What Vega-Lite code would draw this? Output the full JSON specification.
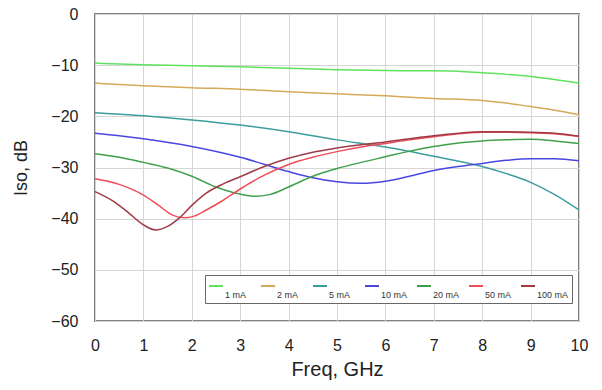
{
  "$schema": "https://vega.github.io/schema/vega-lite/v6.json",
  "autosize": {"type": "none"},
  "padding": {"left": 95, "top": 14, "right": 23, "bottom": 69},
  "width": 484,
  "height": 307,
  "background": "white",
  "config": {
    "view": {"stroke": "#808080", "strokeWidth": 2},
    "axis": {
      "grid": true, "gridColor": "#d6d6d6", "gridWidth": 1,
      "ticks": false, "domain": false,
      "labelFont": "Liberation Sans", "labelFontSize": 16, "labelColor": "#222",
      "titleFont": "Liberation Sans", "titleFontWeight": "normal", "titleColor": "#222"
    }
  },
  "data": {
    "values": [
      {"f":0,"iso":-9.6,"s":"1 mA"},{"f":1,"iso":-9.9,"s":"1 mA"},{"f":2,"iso":-10.1,"s":"1 mA"},{"f":3,"iso":-10.3,"s":"1 mA"},{"f":4,"iso":-10.6,"s":"1 mA"},{"f":5,"iso":-10.9,"s":"1 mA"},{"f":6,"iso":-11.05,"s":"1 mA"},{"f":7,"iso":-11.1,"s":"1 mA"},{"f":7.5,"iso":-11.2,"s":"1 mA"},{"f":8,"iso":-11.5,"s":"1 mA"},{"f":8.5,"iso":-11.8,"s":"1 mA"},{"f":9,"iso":-12.2,"s":"1 mA"},{"f":9.5,"iso":-12.8,"s":"1 mA"},{"f":10,"iso":-13.5,"s":"1 mA"},
      {"f":0,"iso":-13.5,"s":"2 mA"},{"f":1,"iso":-14.0,"s":"2 mA"},{"f":2,"iso":-14.4,"s":"2 mA"},{"f":3,"iso":-14.7,"s":"2 mA"},{"f":4,"iso":-15.2,"s":"2 mA"},{"f":5,"iso":-15.6,"s":"2 mA"},{"f":6,"iso":-16.0,"s":"2 mA"},{"f":7,"iso":-16.5,"s":"2 mA"},{"f":8,"iso":-16.9,"s":"2 mA"},{"f":8.5,"iso":-17.4,"s":"2 mA"},{"f":9,"iso":-18.1,"s":"2 mA"},{"f":9.5,"iso":-18.8,"s":"2 mA"},{"f":10,"iso":-19.7,"s":"2 mA"},
      {"f":0,"iso":-19.3,"s":"5 mA"},{"f":1,"iso":-19.9,"s":"5 mA"},{"f":2,"iso":-20.7,"s":"5 mA"},{"f":3,"iso":-21.7,"s":"5 mA"},{"f":4,"iso":-23.0,"s":"5 mA"},{"f":5,"iso":-24.6,"s":"5 mA"},{"f":6,"iso":-26.0,"s":"5 mA"},{"f":7,"iso":-27.8,"s":"5 mA"},{"f":8,"iso":-29.8,"s":"5 mA"},{"f":8.5,"iso":-31.2,"s":"5 mA"},{"f":9,"iso":-32.9,"s":"5 mA"},{"f":9.5,"iso":-35.3,"s":"5 mA"},{"f":10,"iso":-38.3,"s":"5 mA"},
      {"f":0,"iso":-23.3,"s":"10 mA"},{"f":0.5,"iso":-23.8,"s":"10 mA"},{"f":1,"iso":-24.4,"s":"10 mA"},{"f":2,"iso":-25.9,"s":"10 mA"},{"f":3,"iso":-28.0,"s":"10 mA"},{"f":4,"iso":-30.8,"s":"10 mA"},{"f":4.5,"iso":-32.0,"s":"10 mA"},{"f":5,"iso":-32.8,"s":"10 mA"},{"f":5.5,"iso":-33.1,"s":"10 mA"},{"f":6,"iso":-32.7,"s":"10 mA"},{"f":6.5,"iso":-31.7,"s":"10 mA"},{"f":7,"iso":-30.6,"s":"10 mA"},{"f":7.5,"iso":-29.8,"s":"10 mA"},{"f":8,"iso":-29.2,"s":"10 mA"},{"f":8.5,"iso":-28.6,"s":"10 mA"},{"f":9,"iso":-28.3,"s":"10 mA"},{"f":9.5,"iso":-28.3,"s":"10 mA"},{"f":10,"iso":-28.7,"s":"10 mA"},
      {"f":0,"iso":-27.3,"s":"20 mA"},{"f":0.5,"iso":-28.0,"s":"20 mA"},{"f":1,"iso":-29.0,"s":"20 mA"},{"f":1.5,"iso":-30.1,"s":"20 mA"},{"f":2,"iso":-31.7,"s":"20 mA"},{"f":2.5,"iso":-33.8,"s":"20 mA"},{"f":3,"iso":-35.2,"s":"20 mA"},{"f":3.3,"iso":-35.6,"s":"20 mA"},{"f":3.6,"iso":-35.3,"s":"20 mA"},{"f":4,"iso":-33.8,"s":"20 mA"},{"f":4.5,"iso":-31.7,"s":"20 mA"},{"f":5,"iso":-30.2,"s":"20 mA"},{"f":5.5,"iso":-29.0,"s":"20 mA"},{"f":6,"iso":-27.9,"s":"20 mA"},{"f":6.5,"iso":-26.8,"s":"20 mA"},{"f":7,"iso":-25.9,"s":"20 mA"},{"f":7.5,"iso":-25.2,"s":"20 mA"},{"f":8,"iso":-24.8,"s":"20 mA"},{"f":8.5,"iso":-24.6,"s":"20 mA"},{"f":9,"iso":-24.5,"s":"20 mA"},{"f":9.5,"iso":-24.8,"s":"20 mA"},{"f":10,"iso":-25.3,"s":"20 mA"},
      {"f":0,"iso":-32.2,"s":"50 mA"},{"f":0.5,"iso":-33.3,"s":"50 mA"},{"f":1,"iso":-35.4,"s":"50 mA"},{"f":1.3,"iso":-37.3,"s":"50 mA"},{"f":1.6,"iso":-39.3,"s":"50 mA"},{"f":1.85,"iso":-39.8,"s":"50 mA"},{"f":2.05,"iso":-39.5,"s":"50 mA"},{"f":2.3,"iso":-38.3,"s":"50 mA"},{"f":2.65,"iso":-36.4,"s":"50 mA"},{"f":3,"iso":-34.2,"s":"50 mA"},{"f":3.5,"iso":-31.5,"s":"50 mA"},{"f":4,"iso":-29.4,"s":"50 mA"},{"f":4.5,"iso":-28.0,"s":"50 mA"},{"f":5,"iso":-26.9,"s":"50 mA"},{"f":5.5,"iso":-26.0,"s":"50 mA"},{"f":6,"iso":-25.3,"s":"50 mA"},{"f":6.5,"iso":-24.6,"s":"50 mA"},{"f":7,"iso":-24.0,"s":"50 mA"},{"f":8,"iso":-23.1,"s":"50 mA"},{"f":9,"iso":-23.2,"s":"50 mA"},{"f":9.5,"iso":-23.4,"s":"50 mA"},{"f":10,"iso":-23.9,"s":"50 mA"},
      {"f":0,"iso":-34.7,"s":"100 mA"},{"f":0.4,"iso":-36.7,"s":"100 mA"},{"f":0.7,"iso":-38.9,"s":"100 mA"},{"f":1,"iso":-41.2,"s":"100 mA"},{"f":1.25,"iso":-42.2,"s":"100 mA"},{"f":1.5,"iso":-41.5,"s":"100 mA"},{"f":1.75,"iso":-39.8,"s":"100 mA"},{"f":2,"iso":-37.4,"s":"100 mA"},{"f":2.3,"iso":-35.0,"s":"100 mA"},{"f":2.65,"iso":-33.2,"s":"100 mA"},{"f":3,"iso":-31.8,"s":"100 mA"},{"f":3.5,"iso":-29.8,"s":"100 mA"},{"f":4,"iso":-28.2,"s":"100 mA"},{"f":4.5,"iso":-27.0,"s":"100 mA"},{"f":5,"iso":-26.2,"s":"100 mA"},{"f":6,"iso":-25.0,"s":"100 mA"},{"f":7,"iso":-23.8,"s":"100 mA"},{"f":8,"iso":-23.0,"s":"100 mA"},{"f":9,"iso":-23.1,"s":"100 mA"},{"f":9.5,"iso":-23.3,"s":"100 mA"},{"f":10,"iso":-23.9,"s":"100 mA"}
    ]
  },
  "mark": {"type": "line", "strokeWidth": 1.5, "interpolate": "monotone"},
  "encoding": {
    "x": {
      "field": "f", "type": "quantitative",
      "scale": {"domain": [0, 10], "nice": false},
      "axis": {"values": [0,1,2,3,4,5,6,7,8,9,10], "title": "Freq, GHz", "titleFontSize": 20, "labelPadding": 16, "titlePadding": 6, "labelFlush": false}
    },
    "y": {
      "field": "iso", "type": "quantitative",
      "scale": {"domain": [-60, 0], "nice": false},
      "axis": {"values": [-60,-50,-40,-30,-20,-10,0], "title": "Iso, dB", "titleFontSize": 18, "labelPadding": 17, "titlePadding": 20, "labelFlush": false}
    },
    "color": {
      "field": "s", "type": "nominal",
      "scale": {
        "domain": ["1 mA","2 mA","5 mA","10 mA","20 mA","50 mA","100 mA"],
        "range": ["#5fe35f","#d4aa58","#3c9e9c","#4848e0","#40a04c","#f04c58","#a03a46"]
      },
      "legend": {
        "title": null, "orient": "none", "legendX": 110, "legendY": 261,
        "direction": "horizontal", "columns": 7, "gridAlign": "all",
        "symbolType": "stroke", "symbolSize": 196, "symbolStrokeWidth": 2,
        "labelFont": "Liberation Sans", "labelFontSize": 9, "labelColor": "#333",
        "fillColor": "white", "strokeColor": "#666", "padding": 3,
        "columnPadding": 0, "labelOffset": 1,
        "encode": {"labels": {"update": {"dy": {"value": 9}}}}
      }
    },
    "order": {"field": "f", "type": "quantitative"}
  }
}
